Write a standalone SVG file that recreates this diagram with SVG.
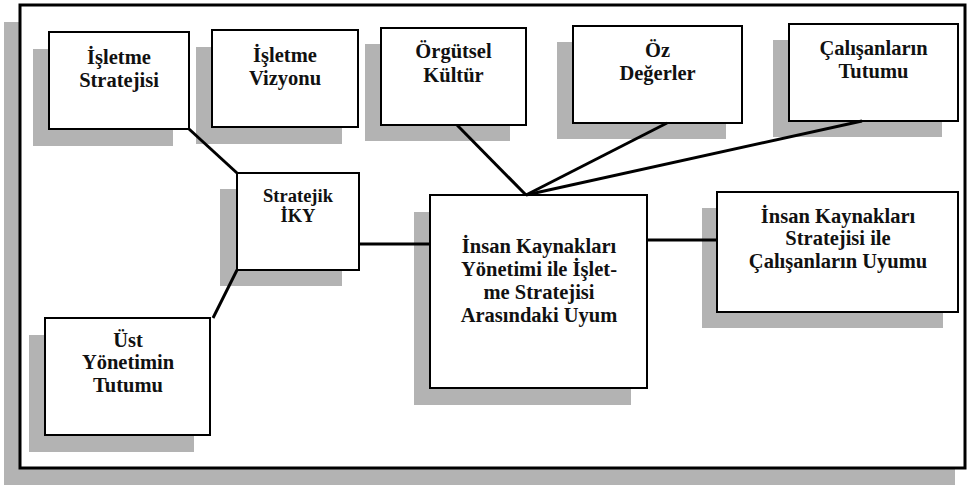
<svg xmlns="http://www.w3.org/2000/svg" width="972" height="493" viewBox="0 0 972 493">
<style>
.shadow{fill:#b3b3b3}
.box{fill:#ffffff;stroke:#000;stroke-width:2}
.frame{fill:#ffffff;stroke:#000;stroke-width:3}
text{font-family:'Liberation Serif','DejaVu Serif',serif;font-weight:bold;font-size:20.5px;fill:#111;text-anchor:middle}
.ts{font-size:18.5px}
.c{stroke:#000;stroke-width:3;fill:none;stroke-linecap:butt}
</style>
<rect width="972" height="493" fill="#ffffff"/>
<g id="frame">
<rect class="shadow" x="4" y="22" width="951" height="463"/>
<rect class="frame" x="20" y="5" width="945" height="463"/>
</g>
<g font-family="Liberation Serif, serif">
<g id="isletme-stratejisi">
<rect class="shadow" x="33" y="49" width="140" height="97"/>
<rect class="box" x="49" y="32" width="140" height="97"/>
<text x="119" y="64">İşletme</text>
<text x="119" y="87">Stratejisi</text>
</g>
<g id="isletme-vizyonu">
<rect class="shadow" x="196" y="47" width="146" height="97"/>
<rect class="box" x="212" y="30" width="146" height="97"/>
<text x="285" y="62">İşletme</text>
<text x="285" y="85">Vizyonu</text>
</g>
<g id="orgutsel-kultur">
<rect class="shadow" x="365" y="44" width="145" height="97"/>
<rect class="box" x="381" y="28" width="145" height="97"/>
<text x="453.5" y="58">Örgütsel</text>
<text x="453.5" y="82">Kültür</text>
</g>
<g id="oz-degerler">
<rect class="shadow" x="557" y="42" width="169" height="97"/>
<rect class="box" x="573" y="26" width="169" height="97"/>
<text x="657.5" y="57">Öz</text>
<text x="657.5" y="80">Değerler</text>
</g>
<g id="calisanlarin-tutumu">
<rect class="shadow" x="773" y="40" width="169" height="97"/>
<rect class="box" x="789" y="24" width="169" height="97"/>
<text x="873.5" y="55">Çalışanların</text>
<text x="873.5" y="78">Tutumu</text>
</g>
<g id="stratejik-iky">
<rect class="shadow" x="220" y="189" width="122" height="97"/>
<rect class="box" x="237" y="173" width="122" height="97"/>
<text class="ts" x="298" y="202">Stratejik</text>
<text class="ts" x="298" y="222">İKY</text>
</g>
<g id="uyum-merkez">
<rect class="shadow" x="414" y="212" width="217" height="193"/>
<rect class="box" x="430" y="195" width="217" height="193"/>
<text x="539" y="253">İnsan Kaynakları</text>
<text x="539" y="276">Yönetimi ile İşlet-</text>
<text x="539" y="299">me Stratejisi</text>
<text x="539" y="322">Arasındaki Uyum</text>
</g>
<g id="calisanlarin-uyumu">
<rect class="shadow" x="702" y="208" width="241" height="120"/>
<rect class="box" x="717" y="192" width="241" height="120"/>
<text x="838" y="223">İnsan Kaynakları</text>
<text x="838" y="245">Stratejisi ile</text>
<text x="838" y="268">Çalışanların Uyumu</text>
</g>
<g id="ust-yonetim">
<rect class="shadow" x="29" y="335" width="165" height="117"/>
<rect class="box" x="45" y="318" width="165" height="117"/>
<text x="128" y="347">Üst</text>
<text x="128" y="369">Yönetimin</text>
<text x="128" y="392">Tutumu</text>
</g>
</g>
<g id="connectors">
<line class="c" x1="189" y1="129" x2="237" y2="173"/>
<line class="c" x1="237" y1="270" x2="213" y2="318"/>
<line class="c" x1="359" y1="244" x2="430" y2="244"/>
<line class="c" x1="647" y1="240" x2="717" y2="240"/>
<line class="c" x1="457" y1="125" x2="526" y2="195"/>
<line class="c" x1="526" y1="195" x2="667" y2="123" stroke-width="2.5"/>
<line class="c" x1="526" y1="195" x2="862" y2="121" stroke-width="2.5"/>
</g>
</svg>
